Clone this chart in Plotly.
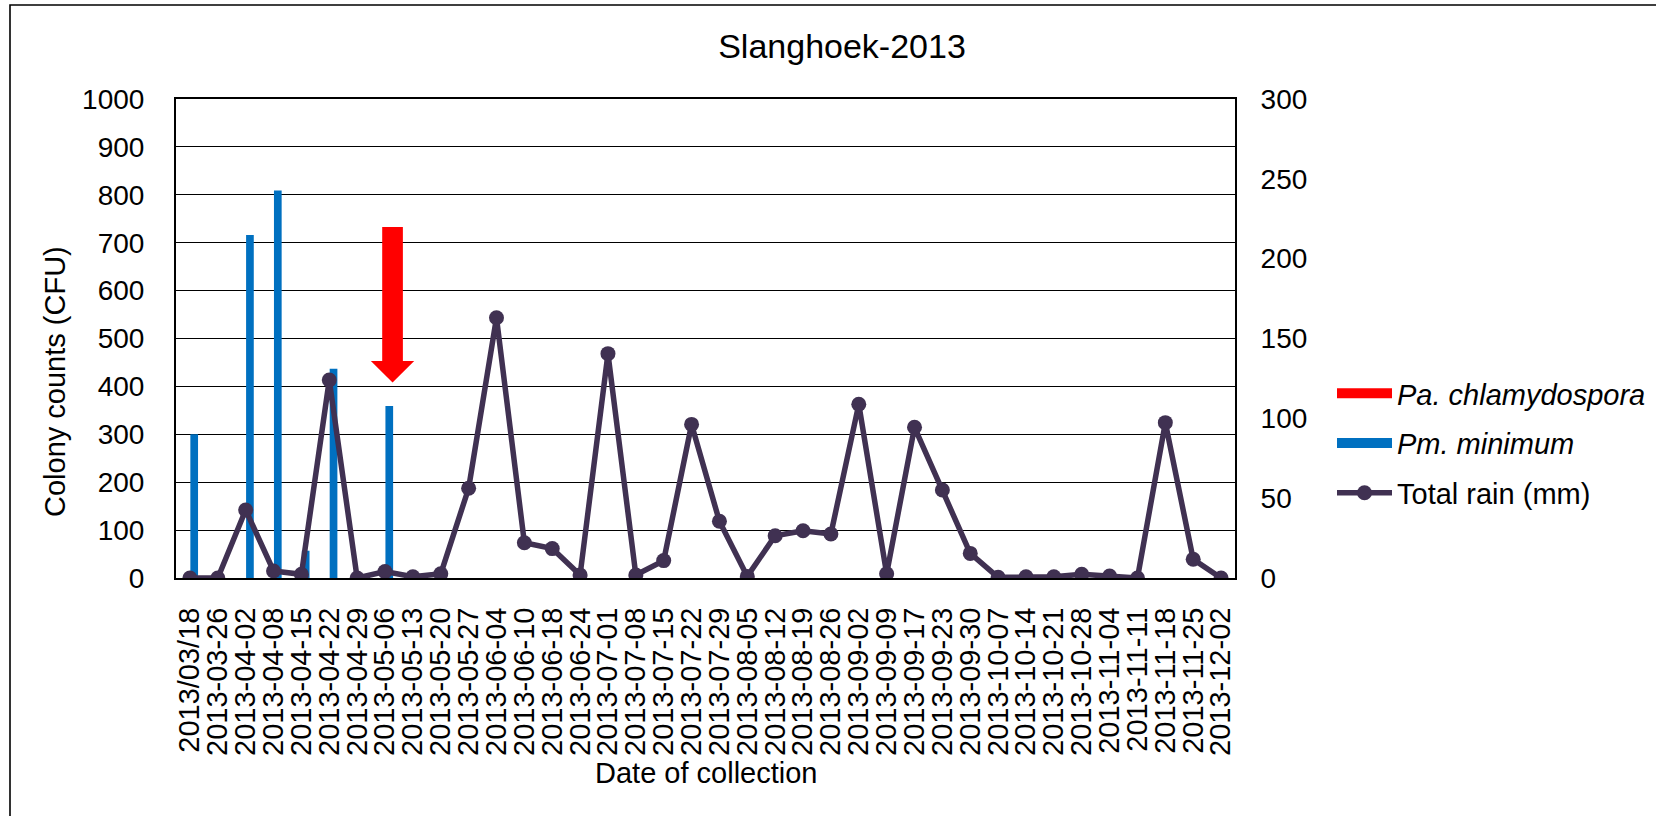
import plotly.graph_objects as go

# ---------------- data ----------------
dates = ["2013/03/18", "2013-03-26", "2013-04-02", "2013-04-08", "2013-04-15", "2013-04-22",
         "2013-04-29", "2013-05-06", "2013-05-13", "2013-05-20", "2013-05-27", "2013-06-04",
         "2013-06-10", "2013-06-18", "2013-06-24", "2013-07-01", "2013-07-08", "2013-07-15",
         "2013-07-22", "2013-07-29", "2013-08-05", "2013-08-12", "2013-08-19", "2013-08-26",
         "2013-09-02", "2013-09-09", "2013-09-17", "2013-09-23", "2013-09-30", "2013-10-07",
         "2013-10-14", "2013-10-21", "2013-10-28", "2013-11-04", "2013-11-11", "2013-11-18",
         "2013-11-25", "2013-12-02"]

pm_minimum = [300, 0, 716, 809, 57, 437, 0, 359, 0, 0, 0, 0,
              0, 0, 0, 0, 0, 0, 0, 0, 0, 0, 0, 0,
              0, 0, 0, 0, 0, 0, 0, 0, 0, 0, 0, 0,
              0, 0]

total_rain = [0, 0, 42.6, 4.4, 2.3, 124, 0, 4, 0.8, 2.6, 56.2, 163,
              22.1, 18.4, 1.9, 140.5, 1.9, 10.9, 96.2, 35.5, 1, 26.5, 29.6, 27.6,
              108.8, 2.7, 94.4, 55.1, 15.4, 0.4, 0.8, 0.8, 2.3, 1.2, 0, 97.3,
              11.7, 0]

# Pa. chlamydospora detection marker (arrow)
arrow_date = "2013-05-06"
arrow_top = 733
arrow_head_base = 453
arrow_tip = 408

left_ticks = list(range(0, 1001, 100))
right_ticks = list(range(0, 301, 50))

# ---------------- style ----------------
FONT = "Liberation Sans, Arial, sans-serif"
BLUE = "#0070C0"
RED = "#FF0000"
PURPLE = "#403152"

L, R, T, B = 176, 421, 99, 238
W, H = 1656, 816
PW, PH = W - L - R, H - T - B

fig = go.Figure()

# legend-only swatches
fig.add_trace(go.Scatter(x=[None], y=[None], mode="lines", name="<i>Pa. chlamydospora</i>",
                         line=dict(color=RED, width=14), legendgroup="a"))
fig.add_trace(go.Scatter(x=[None], y=[None], mode="lines", name="<i>Pm. minimum</i>",
                         line=dict(color=BLUE, width=14), legendgroup="b"))

fig.add_trace(go.Bar(x=dates, y=pm_minimum, marker=dict(color=BLUE, line=dict(width=0)),
                     width=0.276, offset=0.015, showlegend=False, name="Pm. minimum",
                     legendgroup="b"))

fig.add_trace(go.Scatter(x=dates, y=total_rain, yaxis="y2", mode="lines+markers",
                         name="Total rain (mm)", legendgroup="c",
                         line=dict(color=PURPLE, width=5.5),
                         marker=dict(color=PURPLE, size=15)))

# arrow shape
idx = dates.index(arrow_date)
cx = idx + 0.27
sw = 0.371
hw = 0.777
path = (f"M{cx - sw},{arrow_top} L{cx + sw},{arrow_top} L{cx + sw},{arrow_head_base} "
        f"L{cx + hw},{arrow_head_base} L{cx},{arrow_tip} L{cx - hw},{arrow_head_base} "
        f"L{cx - sw},{arrow_head_base} Z")
shapes = [
    dict(type="path", xref="x", yref="y", path=path, fillcolor=RED, line=dict(width=0), layer="above"),
    # outer chart border
    dict(type="rect", xref="paper", yref="paper",
         x0=(10 - L) / PW, x1=(1700 - L) / PW, y0=(T + PH - 840) / PH, y1=(T + PH - 5) / PH,
         line=dict(color="black", width=1.6), fillcolor="rgba(0,0,0,0)", layer="below"),
]

annotations = [
    dict(text="Colony counts (CFU)", xref="paper", yref="paper",
         x=(55 - L) / PW, y=(T + PH - 382) / PH, textangle=-90, showarrow=False,
         font=dict(family=FONT, size=29, color="black"), xanchor="center", yanchor="middle"),
    dict(text="Date of collection", xref="paper", yref="paper",
         x=0.5, y=(T + PH - 773) / PH, showarrow=False,
         font=dict(family=FONT, size=29, color="black"), xanchor="center", yanchor="middle"),
]

fig.update_layout(
    width=W, height=H,
    margin=dict(l=L, r=R, t=T, b=B, pad=0),
    paper_bgcolor="white", plot_bgcolor="white",
    font=dict(family=FONT, size=28, color="black"),
    title=dict(text="Slanghoek-2013", x=842 / W, y=1 - 46 / H, xref="container", yref="container",
               xanchor="center", yanchor="middle", font=dict(family=FONT, size=34, color="black")),
    barmode="overlay",
    showlegend=True,
    legend=dict(xref="container", yref="container", x=1332 / W, y=1 - 368 / H,
                xanchor="left", yanchor="top", font=dict(family=FONT, size=29, color="black"),
                itemwidth=55, tracegroupgap=9, traceorder="grouped",
                bgcolor="rgba(0,0,0,0)"),
    xaxis=dict(type="category", categoryorder="array", categoryarray=dates,
               tickmode="array", tickvals=dates, ticktext=dates,
               range=[-0.5, len(dates) - 0.5],
               tickangle=-90, tickfont=dict(family=FONT, size=29, color="black"),
               showgrid=False, showline=True, linecolor="black", linewidth=2, mirror=True,
               ticks="", ticklabelstandoff=16, zeroline=False),
    yaxis=dict(range=[0, 1000], tickvals=left_ticks, showgrid=True, gridcolor="black", gridwidth=1,
               showline=True, linecolor="black", linewidth=2, mirror=False,
               ticks="", ticklabelstandoff=24, zeroline=False,
               tickfont=dict(family=FONT, size=28, color="black")),
    yaxis2=dict(range=[0, 300], tickvals=right_ticks, overlaying="y", side="right",
                showgrid=False, showline=True, linecolor="black", linewidth=2,
                ticks="", ticklabelstandoff=18, zeroline=False,
                tickfont=dict(family=FONT, size=28, color="black")),
    shapes=shapes,
    annotations=annotations,
)

fig.write_html("out.html")
